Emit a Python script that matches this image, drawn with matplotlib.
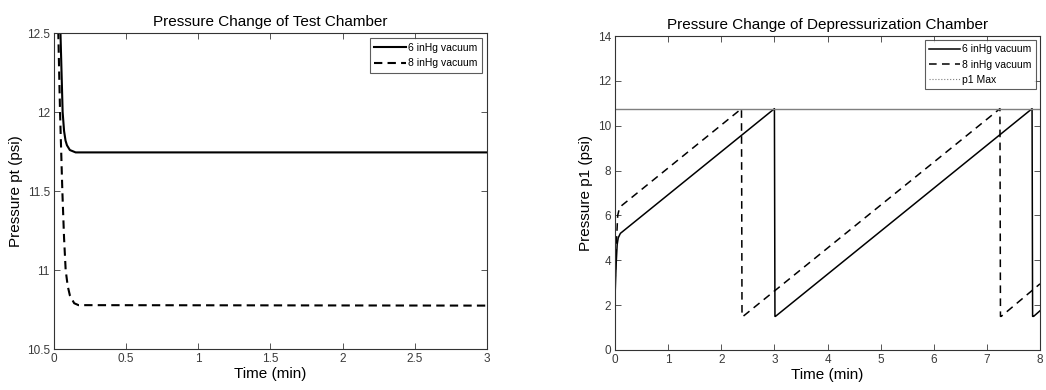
import matplotlib
matplotlib.use("Agg")
import matplotlib.pyplot as plt
from matplotlib.lines import Line2D

plt.rcParams['font.family'] = ['Liberation Sans', 'DejaVu Sans']

# Left chart: test chamber pressure
t_test_6 = [0.04, 0.045, 0.06, 0.07, 0.08, 0.09, 0.11, 0.15, 3.0]
p_test_6 = [12.6, 12.5, 12.0, 11.88, 11.82, 11.79, 11.76, 11.745, 11.745]
t_test_8 = [0.025, 0.03, 0.042, 0.058, 0.07, 0.081, 0.095, 0.11, 0.14, 0.17, 3.0]
p_test_8 = [12.6, 12.5, 12.0, 11.5, 11.2, 11.0, 10.9, 10.84, 10.79, 10.778, 10.775]

# Right chart: depressurization chamber pressure
t_dep_6 = [0.0, 0.02, 0.04, 0.06, 0.1, 3.0, 3.005, 3.01, 3.02, 7.85, 7.855, 7.86, 7.88, 8.0]
p_dep_6 = [2.4, 3.8, 4.7, 5.0, 5.2, 10.76, 6.1, 1.5, 1.5, 10.76, 6.1, 1.5, 1.5, 1.75]
t_dep_8 = [0.0, 0.03, 0.05, 0.08, 0.13, 2.38, 2.385, 2.39, 2.41, 7.245, 7.25, 7.255, 7.27, 8.0]
p_dep_8 = [3.0, 5.0, 6.0, 6.3, 6.45, 10.76, 6.1, 1.5, 1.5, 10.76, 6.1, 1.5, 1.5, 2.95]
p1_max = 10.76

labels = ['6 inHg vacuum', '8 inHg vacuum', 'p1 Max']

fig = plt.figure(figsize=(10.46, 3.9), dpi=100)
ax1 = fig.add_axes([0.0516, 0.105, 0.414, 0.81])
ax2 = fig.add_axes([0.588, 0.1026, 0.4063, 0.805])

tick_color = '#3a3a3a'
for ax in (ax1, ax2):
    ax.tick_params(direction='in', top=True, right=True, labelsize=8.5,
                   colors=tick_color, length=4, width=0.6, pad=3)
    for s in ax.spines.values():
        s.set_color('#333333')
        s.set_linewidth(0.8)

ax1.plot(t_test_6, p_test_6, color='black', lw=1.5, label=labels[0])
ax1.plot(t_test_8, p_test_8, color='black', lw=1.5, dashes=(4, 2.5), label=labels[1])
ax1.set_xlim(0, 3)
ax1.set_ylim(10.5, 12.5)
ax1.set_xticks([0, 0.5, 1, 1.5, 2, 2.5, 3])
ax1.set_xticklabels(['0', '0.5', '1', '1.5', '2', '2.5', '3'])
ax1.set_yticks([10.5, 11, 11.5, 12, 12.5])
ax1.set_yticklabels(['10.5', '11', '11.5', '12', '12.5'])
ax1.set_title('Pressure Change of Test Chamber', fontsize=11, pad=5)
ax1.set_xlabel('Time (min)', fontsize=11, labelpad=1)
ax1.set_ylabel('Pressure pt (psi)', fontsize=11, labelpad=3)
leg1 = ax1.legend(loc='upper right', fontsize=7.5, frameon=True, fancybox=False,
                  handlelength=3.0, handletextpad=0.2, borderaxespad=0.5,
                  borderpad=0.45, labelspacing=0.5)
leg1.get_frame().set_edgecolor('#333333')
leg1.get_frame().set_linewidth(0.8)

ax2.plot(t_dep_6, p_dep_6, color='black', lw=1.1)
ax2.plot(t_dep_8, p_dep_8, color='black', lw=1.1, dashes=(5, 3.5))
ax2.axhline(p1_max, color='#7f7f7f', lw=1.0)
ax2.set_xlim(0, 8)
ax2.set_ylim(0, 14)
ax2.set_xticks(range(0, 9))
ax2.set_yticks(range(0, 15, 2))
ax2.set_title('Pressure Change of Depressurization Chamber', fontsize=11, pad=5)
ax2.set_xlabel('Time (min)', fontsize=11, labelpad=1)
ax2.set_ylabel('Pressure p1 (psi)', fontsize=11, labelpad=3)
handles = [Line2D([], [], color='black', lw=1.1),
           Line2D([], [], color='black', lw=1.1, dashes=(5, 3.5)),
           Line2D([], [], color='#7f7f7f', lw=0.8, linestyle=':')]
leg2 = ax2.legend(handles, labels, loc='upper right', fontsize=7.5, frameon=True,
                  fancybox=False, handlelength=3.0, handletextpad=0.2,
                  borderaxespad=0.4, borderpad=0.4, labelspacing=0.5)
leg2.get_frame().set_edgecolor('#333333')
leg2.get_frame().set_linewidth(0.8)

fig.savefig('out.png', dpi=100)
